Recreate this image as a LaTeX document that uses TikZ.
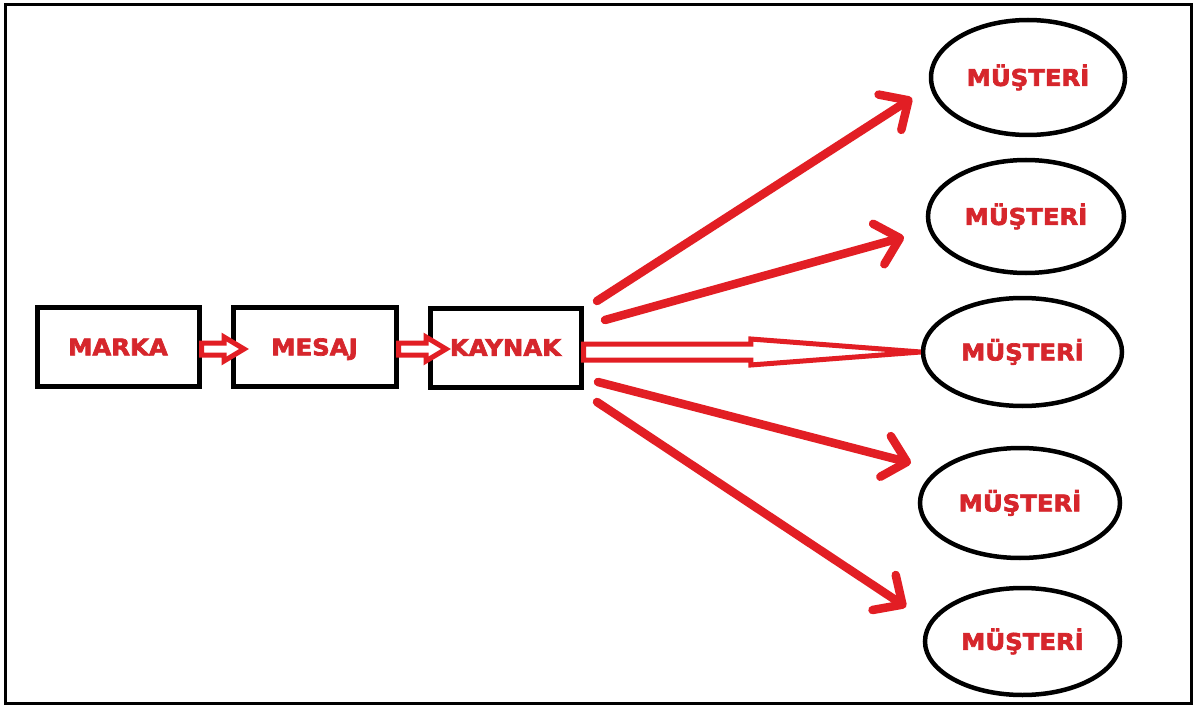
\documentclass[tikz,border=0pt]{standalone}
\usepackage{fontspec}
\usetikzlibrary{arrows.meta,calc,shapes.geometric}
\newfontfamily\lblfont[FakeStretch=1.06,FakeBold=3]{DejaVu Sans}
\definecolor{arrred}{RGB}{226,30,36}
\definecolor{txtred}{RGB}{214,38,44}
\tikzset{
  lbl/.style={text=txtred,font=\lblfont\bfseries\fontsize{23}{25}\selectfont,inner sep=0pt,
     text height=16.8pt,text depth=0pt},
  box/.style={lbl,draw=black,line width=5pt,rectangle,minimum height=79pt},
  oval/.style={lbl,draw=black,line width=4.5pt,ellipse},
  barb/.style={draw=arrred,line width=8.5pt,line cap=round,
     -{Straight Barb[length=22pt,width=42pt,line cap=round,line join=round]}},
  hollow/.style={draw=arrred,fill=white,line width=5pt,line join=miter},
}
\newcommand\hollowarr[5]{%
  \draw[hollow] let \p1=(#1), \p2=(#2) in
    (\x1,\y1+#4pt) -- (\x2-#3pt,\y1+#4pt) -- (\x2-#3pt,\y1+#5pt) -- (\x2,\y2)
    -- (\x2-#3pt,\y1-#5pt) -- (\x2-#3pt,\y1-#4pt) -- (\x1,\y1-#4pt) -- cycle;}
\begin{document}
\begin{tikzpicture}[x=1pt,y=-1pt]
\useasboundingbox (0,0) rectangle (1195,706);
\fill[white] (0,0) rectangle (1195,706);
\draw[line width=3pt] (5,5) rectangle (1191,703);
% boxes
\node[box,minimum width=162pt] (marka) at (118,347) {MARKA};
\node[box,minimum width=163pt] (mesaj) at (314.5,347) {MESAJ};
\node[box,minimum width=151pt] (kaynak) at (505.5,347.5) {KAYNAK};
% ellipses
\node[oval,minimum width=194pt,minimum height=115pt] (m1) at (1028,77.5) {MÜŞTERİ};
\node[oval,minimum width=196pt,minimum height=113pt] (m2) at (1026,216.5) {MÜŞTERİ};
\node[oval,minimum width=199pt,minimum height=108pt] (m3) at (1022.5,352) {MÜŞTERİ};
\node[oval,minimum width=200pt,minimum height=110pt] (m4) at (1020,503) {MÜŞTERİ};
\node[oval,minimum width=195pt,minimum height=107pt] (m5) at (1022.5,641.5) {MÜŞTERİ};
% small hollow arrows
\coordinate (h1s) at (marka.east |- 0,349);
\coordinate (h1t) at (244,349);
\coordinate (h2s) at (mesaj.east |- 0,349);
\coordinate (h2t) at (446,349);
\hollowarr{h1s}{h1t}{20}{6}{12}
\hollowarr{h2s}{h2t}{20}{6}{12}
% big hollow arrow
\coordinate (h3s) at (kaynak.east |- 0,352);
\coordinate (h3t) at (m3.west);
\hollowarr{h3s}{h3t}{170}{8}{13}
% chevron arrows
\coordinate (s1) at (597,301); \coordinate (t1) at (912,98);
\coordinate (s2) at (605,320); \coordinate (t2) at (904,237);
\coordinate (s4) at (598,382); \coordinate (t4) at (911,463);
\coordinate (s5) at (597,402); \coordinate (t5) at (906,607);
\draw[barb] (s1) -- (t1);
\draw[barb] (s2) -- (t2);
\draw[barb] (s4) -- (t4);
\draw[barb] (s5) -- (t5);
\end{tikzpicture}
\end{document}
